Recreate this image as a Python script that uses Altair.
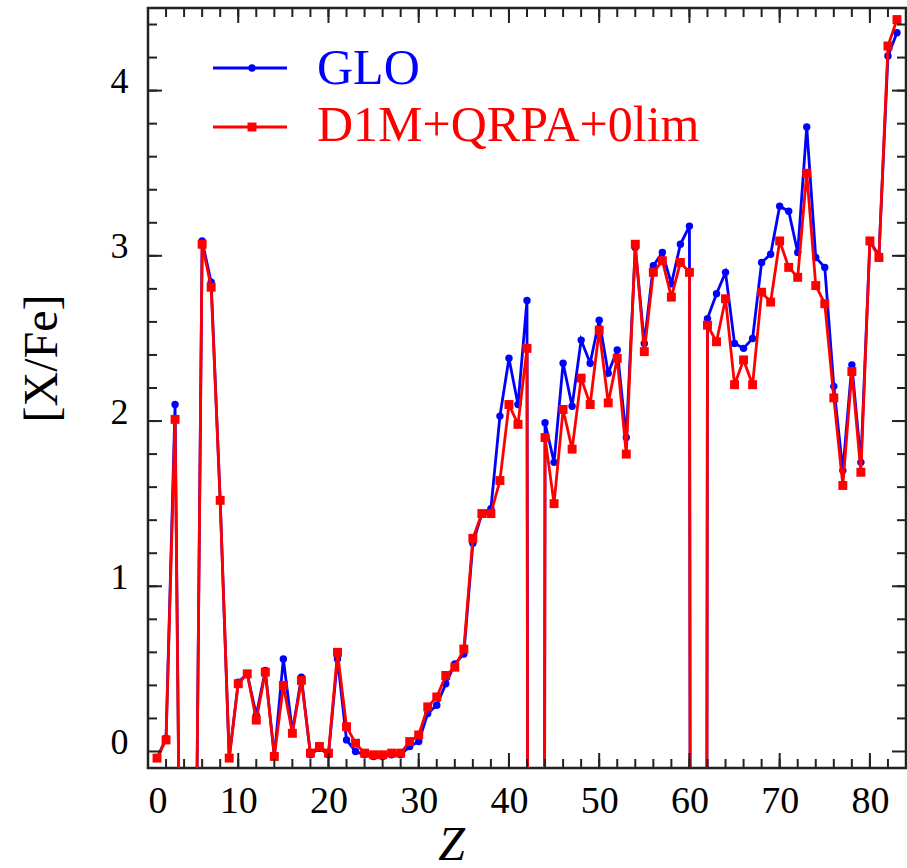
import altair as alt
import pandas as pd
import numpy as np

# Atomic number and abundance ratios [X/Fe] for the two strength-function models
Z = list(range(1, 84))
glo = [
    -0.04, 0.08, 2.10, -3.4, -2.6, 3.09, 2.84, 1.52, -0.04, 0.42,
    0.47, 0.22, 0.49, -0.03, 0.56, 0.12, 0.45, -0.02, 0.02, -0.02,
    0.56, 0.07, 0.00, -0.02, -0.03, -0.03, -0.02, -0.02, 0.03, 0.06,
    0.23, 0.28, 0.41, 0.53, 0.59, 1.26, 1.44, 1.47, 2.03, 2.38,
    2.10, 2.73, -40, 1.99, 1.75, 2.35, 2.09, 2.49, 2.35, 2.61,
    2.29, 2.43, 1.90, 3.05, 2.47, 2.94, 3.02, 2.83, 3.07, 3.18,
    -40, 2.62, 2.77, 2.90, 2.47, 2.44, 2.50, 2.96, 3.01, 3.30,
    3.27, 3.02, 3.78, 2.99, 2.93, 2.21, 1.70, 2.34, 1.75, 3.09,
    3.00, 4.21, 4.35,
]
d1m = [
    -0.04, 0.07, 2.01, -3.4, -2.6, 3.07, 2.81, 1.52, -0.04, 0.41,
    0.47, 0.19, 0.48, -0.03, 0.40, 0.11, 0.43, -0.01, 0.03, -0.01,
    0.60, 0.15, 0.05, -0.01, -0.02, -0.02, -0.01, -0.01, 0.06, 0.10,
    0.27, 0.33, 0.46, 0.51, 0.62, 1.29, 1.44, 1.44, 1.64, 2.10,
    1.98, 2.44, -40, 1.90, 1.50, 2.07, 1.83, 2.26, 2.10, 2.55,
    2.11, 2.38, 1.80, 3.07, 2.42, 2.90, 2.97, 2.75, 2.96, 2.90,
    -40, 2.58, 2.48, 2.74, 2.22, 2.37, 2.22, 2.78, 2.72, 3.09,
    2.93, 2.87, 3.50, 2.82, 2.71, 2.14, 1.61, 2.30, 1.69, 3.09,
    2.99, 4.27, 4.43,
]

series_names = ["GLO", "D1M+QRPA+0lim"]
series_colors = ["#0000ff", "#ff0000"]

x_major = [0, 10, 20, 30, 40, 50, 60, 70, 80]
x_minor = list(range(2, 84, 2))
y_major = [0, 1, 2, 3, 4]
y_minor = [round(v, 1) for v in np.arange(0.2, 4.5, 0.2)]

W, H = 758, 760
FONT = "Liberation Serif"

x_scale = alt.Scale(domain=[0, 84], nice=False, zero=False)
y_scale = alt.Scale(domain=[-0.1, 4.5], nice=False, zero=False)

glo_df = pd.DataFrame({"Z": Z, "value": glo})
d1m_df = pd.DataFrame({"Z": Z, "value": d1m})

x_axis = alt.Axis(
    values=x_major, format="d", title="Z", ticks=False, domain=False, grid=False,
    labelFont=FONT, labelFontSize=38, labelColor="black", labelPadding=14,
    titleFont=FONT, titleFontSize=48, titleFontStyle="italic", titleFontWeight="normal",
    titleColor="black", titleX=303, titleY=91, titleBaseline="alphabetic", titleAlign="center",
)
y_axis = alt.Axis(
    values=y_major, format="d", title="[X/Fe]", ticks=False, domain=False, grid=False,
    labelFont=FONT, labelFontSize=36, labelColor="black", labelPadding=20, labelOffset=-9,
    titleFont=FONT, titleFontSize=48, titleFontWeight="normal", titleColor="black",
    titleX=-106, titleY=350, titleAngle=270, titleBaseline="middle", titleAlign="center",
)
x_enc = alt.X("Z:Q", scale=x_scale, axis=x_axis)
y_enc = alt.Y("value:Q", scale=y_scale, axis=y_axis)

glo_line = alt.Chart(glo_df).mark_line(color=series_colors[0], strokeWidth=2.8, clip=True).encode(x=x_enc, y=y_enc)
glo_pts = alt.Chart(glo_df).mark_point(
    color=series_colors[0], filled=True, shape="circle", size=55, opacity=1, clip=True
).encode(x=x_enc, y=y_enc)
d1m_line = alt.Chart(d1m_df).mark_line(color=series_colors[1], strokeWidth=2.8, clip=True).encode(x=x_enc, y=y_enc)
d1m_pts = alt.Chart(d1m_df).mark_point(
    color=series_colors[1], filled=True, shape="square", size=80, opacity=1, clip=True
).encode(x=x_enc, y=y_enc)


# Inward-pointing ticks on all four sides of the frame
def y_ticks(values, length):
    d = pd.DataFrame({"value": values})
    left = alt.Chart(d).mark_rule(color="#222", strokeWidth=2).encode(
        y=y_enc, x=alt.value(0), x2=alt.value(length))
    right = alt.Chart(d).mark_rule(color="#222", strokeWidth=2).encode(
        y=y_enc, x=alt.value(W - length), x2=alt.value(W))
    return [left, right]


def x_ticks(values, length):
    d = pd.DataFrame({"Z": values})
    bottom = alt.Chart(d).mark_rule(color="#222", strokeWidth=2).encode(
        x=x_enc, y=alt.value(H), y2=alt.value(H - length))
    top = alt.Chart(d).mark_rule(color="#222", strokeWidth=2).encode(
        x=x_enc, y=alt.value(0), y2=alt.value(length))
    return [bottom, top]


tick_layers = y_ticks(y_minor, 9) + y_ticks(y_major, 14) + x_ticks(x_minor, 9) + x_ticks(x_major, 15)

# Legend: line sample with marker, followed by the coloured series name
legend_layers = []
legend_rows = [(60, 76, "circle", 55), (119, 133, "square", 80)]
for name, color, (ly, ty, shape, size) in zip(series_names, series_colors, legend_rows):
    ld = pd.DataFrame({"label": [name]})
    legend_layers.append(alt.Chart(ld).mark_rule(color=color, strokeWidth=2.8).encode(
        x=alt.value(65), x2=alt.value(139), y=alt.value(ly)))
    legend_layers.append(alt.Chart(ld).mark_point(
        color=color, filled=True, shape=shape, size=size, opacity=1).encode(
        x=alt.value(104), y=alt.value(ly)))
    legend_layers.append(alt.Chart(ld).mark_text(
        color=color, font=FONT, fontSize=50, align="left", baseline="alphabetic").encode(
        x=alt.value(169), y=alt.value(ty), text="label:N"))

chart = alt.layer(
    glo_line, glo_pts, d1m_line, d1m_pts, *tick_layers, *legend_layers
).properties(
    width=W, height=H,
    background="white",
    autosize=alt.AutoSizeParams(type="none"),
    padding={"left": 148, "top": 8, "right": 1, "bottom": 100},
).configure_view(
    stroke="#222", strokeWidth=2.5
)

chart.save("out.html", embed_options={"renderer": "svg", "actions": False})
